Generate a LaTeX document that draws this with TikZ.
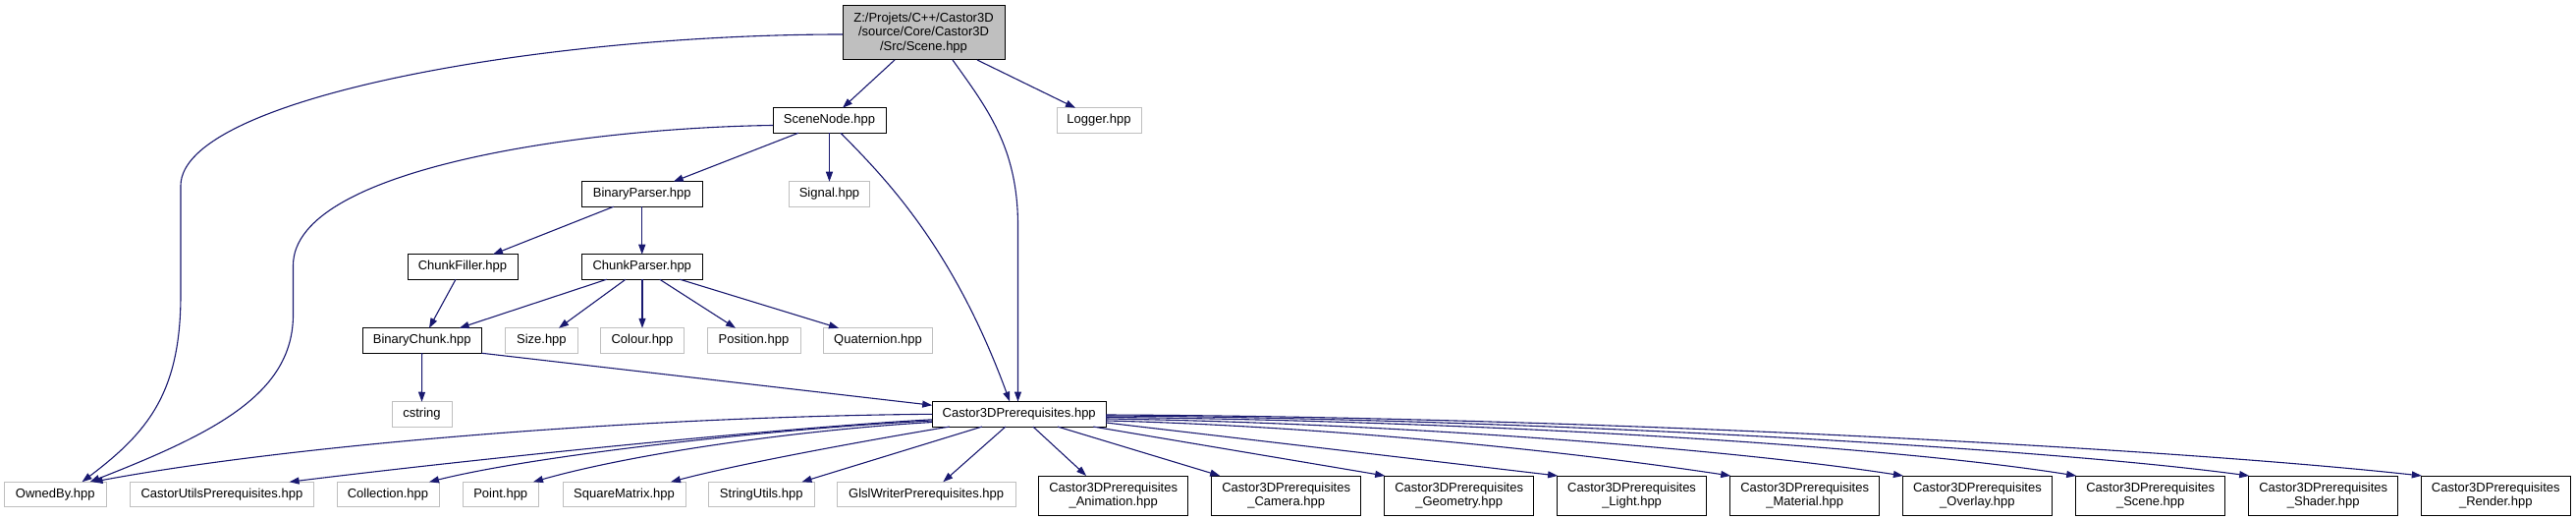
\documentclass[tikz,border=0pt]{standalone}
\usepackage{fontspec}
\setmainfont{Liberation Sans}
\usetikzlibrary{arrows.meta}
\definecolor{edgec}{HTML}{191970}
\definecolor{grayb}{HTML}{BFBFBF}
\begin{document}
\begin{tikzpicture}[x=1pt,y=-1pt,
  every node/.style={font=\fontsize{13}{14.5}\selectfont, inner sep=0pt, outer sep=0pt, align=center},
  blk/.style={draw=black, line width=1pt, fill=white},
  gry/.style={draw=grayb, line width=1pt, fill=white},
  one/.style={minimum height=25.5pt},
  two/.style={minimum height=40pt, minimum width=152pt},
  edge/.style={draw=edgec, line width=1.1pt, -{Triangle[length=10pt,width=7pt]}},
]
\fill[white] (0,0) rectangle (2623,529);
\useasboundingbox (0,0) rectangle (2623,529);

% top levels
\node[blk, fill=grayb, minimum width=165pt, minimum height=55pt] (scene) at (940.5,33.5)
  {Z:/Projets/C++/Castor3D\\/source/Core/Castor3D\hspace*{11pt}\\/Src/Scene.hpp};
\node[gry, one, minimum width=86pt] (logger) at (1119,122.5) {Logger.hpp};
\node[blk, one, minimum width=115pt] (scenenode) at (844.5,122.5) {SceneNode.hpp};
\node[blk, one, minimum width=122.5pt] (binparser) at (653.75,197.5) {BinaryParser.hpp};
\node[gry, one, minimum width=82pt] (signal) at (844.5,197.5) {Signal.hpp};
\node[blk, one, minimum width=112pt] (chunkfiller) at (471,271.5) {ChunkFiller.hpp};
\node[blk, one, minimum width=122.5pt] (chunkparser) at (653.75,271.5) {ChunkParser.hpp};
\node[blk, one, minimum width=121.4pt] (binchunk) at (429.7,346.5) {BinaryChunk.hpp};
\node[gry, one, minimum width=73.8pt] (size) at (551.4,346.5) {Size.hpp};
\node[gry, one, minimum width=84.5pt] (colour) at (654,346.5) {Colour.hpp};
\node[gry, one, minimum width=95pt] (position) at (767.5,346.5) {Position.hpp};
\node[gry, one, minimum width=110.8pt] (quaternion) at (894,346.5) {Quaternion.hpp};
\node[gry, one, minimum width=61pt] (cstring) at (429.5,421.5) {cstring};
\node[blk, one, minimum width=177pt] (c3dp) at (1037.7,421.3) {Castor3DPrerequisites.hpp};

% bottom row
\node[gry, one, minimum width=103.5pt] (ownedby) at (56.3,503) {OwnedBy.hpp};
\node[gry, one, minimum width=186.6pt] (cup) at (225.9,503) {CastorUtilsPrerequisites.hpp};
\node[gry, one, minimum width=104pt] (collection) at (395,503) {Collection.hpp};
\node[gry, one, minimum width=77.5pt] (point) at (509.75,503) {Point.hpp};
\node[gry, one, minimum width=125pt] (squarematrix) at (635.5,503) {SquareMatrix.hpp};
\node[gry, one, minimum width=107.5pt] (stringutils) at (775.25,503) {StringUtils.hpp};
\node[gry, one, minimum width=181.7pt] (glsl) at (943.15,503) {GlslWriterPrerequisites.hpp};
\node[blk, two] (anim) at (1133.7,504) {Castor3DPrerequisites\\\_Animation.hpp};
\node[blk, two] (camera) at (1309.7,504) {Castor3DPrerequisites\\\_Camera.hpp};
\node[blk, two] (geometry) at (1485.7,504) {Castor3DPrerequisites\\\_Geometry.hpp};
\node[blk, two] (light) at (1661.6,504) {Castor3DPrerequisites\\\_Light.hpp};
\node[blk, two] (material) at (1837.7,504) {Castor3DPrerequisites\\\_Material.hpp};
\node[blk, two] (overlay) at (2013.4,504) {Castor3DPrerequisites\\\_Overlay.hpp};
\node[blk, two] (scenep) at (2189.7,504) {Castor3DPrerequisites\\\_Scene.hpp};
\node[blk, two] (shader) at (2365.7,504) {Castor3DPrerequisites\\\_Shader.hpp};
\node[blk, two] (render) at (2541.3,504) {Castor3DPrerequisites\\\_Render.hpp};

% edges from Scene.hpp
\draw[edge] ([yshift=-1.5pt]scene.west) .. controls (550,35) and (184,100) .. (184,189)
  -- (184,300) .. controls (184,400) and (150,440) .. ([xshift=79pt]ownedby.north west);
\draw[edge] ([xshift=-29.5pt]scene.south) -- ([xshift=13.5pt]scenenode.north);
\draw[edge] ([xshift=29.5pt]scene.south) .. controls (1005,110) and (1036.5,150) .. (1036.5,230)
  -- ([xshift=-1.2pt]c3dp.north);
\draw[edge] ([xshift=54.5pt]scene.south) -- ([xshift=-24pt]logger.north);

% edges from SceneNode.hpp
\draw[edge] ([yshift=-5pt]scenenode.west) .. controls (600,130) and (298.5,170) .. (298.5,270)
  -- (298.5,320) .. controls (298.5,400) and (220,440) .. ([xshift=87pt]ownedby.north west);
\draw[edge] ([xshift=-31.5pt]scenenode.south) -- ([xshift=32pt]binparser.north);
\draw[edge] (scenenode.south) -- (signal.north);
\draw[edge] ([xshift=11.5pt]scenenode.south) .. controls (900,180) and (970,250) .. ([xshift=-9.5pt]c3dp.north);

% BinaryParser / ChunkFiller / ChunkParser
\draw[edge] ([xshift=-29pt]binparser.south) -- ([xshift=31pt]chunkfiller.north);
\draw[edge] (binparser.south) -- (chunkparser.north);
\draw[edge] ([xshift=-7pt]chunkfiller.south) -- ([xshift=7.3pt]binchunk.north);
\draw[edge] ([xshift=-36pt]chunkparser.south) -- ([xshift=38pt]binchunk.north);
\draw[edge] ([xshift=-16.75pt]chunkparser.south) -- ([xshift=17.6pt]size.north);
\draw[edge] ([xshift=0.25pt]chunkparser.south) -- (colour.north);
\draw[edge] ([xshift=18pt]chunkparser.south) -- ([xshift=-18.5pt]position.north);
\draw[edge] ([xshift=38.6pt]chunkparser.south) -- ([xshift=-40pt]quaternion.north);

% BinaryChunk
\draw[edge] (binchunk.south) -- (cstring.north);
\draw[edge] (binchunk.south east) -- ([yshift=-3.7pt]c3dp.north west);

% Castor3DPrerequisites fan, left
\draw[edge] (c3dp.west) .. controls (650,424) and (300,452) .. ([xshift=90pt]ownedby.north west);
\draw[edge] ([yshift=-5.5pt]c3dp.west) .. controls (800,435) and (500,465) .. ([xshift=162pt]cup.north west);
\draw[edge] ([yshift=-6.7pt]c3dp.west) .. controls (820,434) and (560,460) .. ([xshift=94pt]collection.north west);
\draw[edge] ([yshift=-8.2pt]c3dp.west) .. controls (820,437) and (650,460) .. ([xshift=72pt]point.north west);
\draw[edge] ([xshift=17.7pt]c3dp.south west) .. controls (900,445) and (760,470) .. ([xshift=110pt]squarematrix.north west);
\draw[edge] ([xshift=50.7pt]c3dp.south west) -- ([xshift=95pt]stringutils.north west);
\draw[edge] ([xshift=74.7pt]c3dp.south west) -- ([xshift=108pt]glsl.north west);
\draw[edge] ([xshift=102.7pt]c3dp.south west) -- ([xshift=48.4pt]anim.north west);
\draw[edge] ([xshift=127.7pt]c3dp.south west) -- ([xshift=8.5pt]camera.north west);

% Castor3DPrerequisites fan, right
\draw[edge] ([xshift=-13pt]c3dp.south east) -- ([xshift=0.5pt]geometry.north west);
\draw[edge] ([yshift=-8.7pt]c3dp.east) -- ([xshift=0.5pt]light.north west);
\draw[edge] ([yshift=-6.7pt]c3dp.east) .. controls (1300,432) and (1550,452) .. ([xshift=0.5pt]material.north west);
\draw[edge] ([yshift=-4.7pt]c3dp.east) .. controls (1400,430) and (1750,455) .. ([xshift=0.5pt]overlay.north west);
\draw[edge] ([yshift=-3.2pt]c3dp.east) .. controls (1450,427) and (1900,450) .. ([xshift=0.5pt]scenep.north west);
\draw[edge] ([yshift=-1.7pt]c3dp.east) .. controls (1500,425) and (2050,452) .. ([xshift=0.5pt]shader.north west);
\draw[edge] ([yshift=-0.7pt]c3dp.east) .. controls (1600,424) and (2200,455) .. ([xshift=0.5pt]render.north west);
\end{tikzpicture}
\end{document}
